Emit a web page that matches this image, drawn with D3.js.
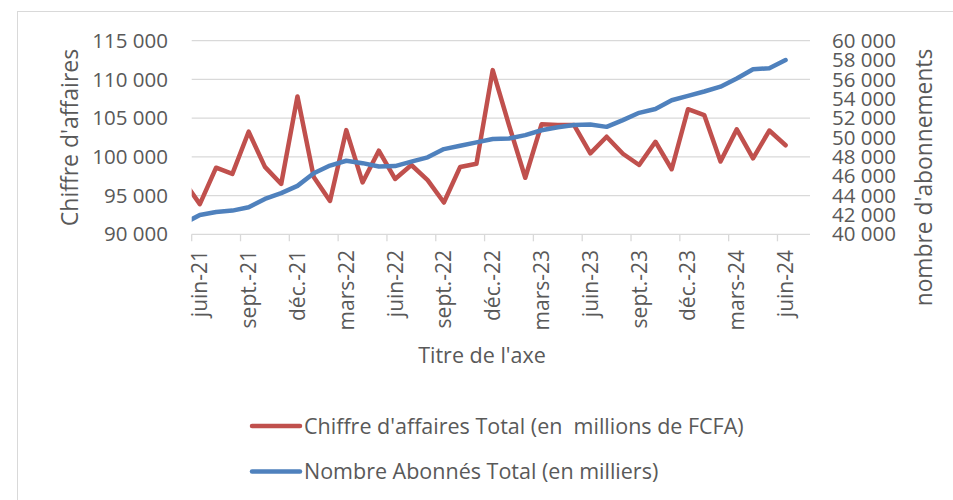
<!DOCTYPE html>
<html>
<head>
<meta charset="utf-8">
<script src="https://cdn.jsdelivr.net/npm/d3@7"></script>
<style>
  body { margin: 0; background: #fff; }
  svg { display: block; font-family: "Open Sans", sans-serif; }
</style>
</head>
<body>
<svg id="chart" width="953" height="500"></svg>
<script>
// --- data ---
const months = ["mai-21","juin-21","juil.-21","août-21","sept.-21","oct.-21","nov.-21","déc.-21",
  "janv.-22","févr.-22","mars-22","avr.-22","mai-22","juin-22","juil.-22","août-22","sept.-22","oct.-22","nov.-22","déc.-22",
  "janv.-23","févr.-23","mars-23","avr.-23","mai-23","juin-23","juil.-23","août-23","sept.-23","oct.-23","nov.-23","déc.-23",
  "janv.-24","févr.-24","mars-24","avr.-24","mai-24","juin-24"];
const chiffreAffaires = [96900, 93900, 98600, 97800, 103250, 98700, 96500, 107800,
  97400, 94300, 103450, 96700, 100800, 97150, 98950, 97000, 94100, 98700, 99100, 111200,
  104100, 97300, 104200, 104100, 104100, 100450, 102600, 100400, 98950, 101950, 98400, 106150,
  105400, 99400, 103550, 99800, 103400, 101500];
const abonnes = [41100, 42000, 42300, 42450, 42800, 43650, 44250, 45000,
  46300, 47100, 47600, 47350, 47000, 47050, 47500, 47950, 48800, 49150, 49500, 49850,
  49900, 50250, 50750, 51050, 51300, 51350, 51100, 51800, 52550, 52950, 53850, 54300,
  54750, 55250, 56100, 57050, 57150, 58000];
const tickMonths = ["juin-21","sept.-21","déc.-21","mars-22","juin-22","sept.-22","déc.-22",
  "mars-23","juin-23","sept.-23","déc.-23","mars-24","juin-24"];
const leftTicks = [90000, 95000, 100000, 105000, 110000, 115000];
const rightTicks = [40000, 42000, 44000, 46000, 48000, 50000, 52000, 54000, 56000, 58000, 60000];
const seriesNames = ["Chiffre d'affaires Total (en  millions de FCFA)", "Nombre Abonnés Total (en milliers)"];

const red = "#c0504d", blue = "#4f81bd", grid = "#d9d9d9", txt = "#595959";

const svg = d3.select("#chart");
const fr = d3.formatLocale({ decimal: ",", thousands: "\u00a0", grouping: [3], currency: ["", ""] });
const fmt = fr.format(",d");

// plot area
const plotLeft = 191.7, plotRight = 810, plotTop = 40.7, plotBottom = 234.3;
const firstSlot = months.indexOf("juin-21"); // axis starts at juin-21
const nSlots = 38;

const x = d3.scaleLinear().domain([0, nSlots]).range([plotLeft, plotRight]);
const xc = i => x(i - firstSlot + 0.5);
const yL = d3.scaleLinear().domain([90000, 115000]).range([plotBottom, plotTop]);
const yR = d3.scaleLinear().domain([40000, 60000]).range([plotBottom, plotTop]);

svg.append("rect").attr("width", 953).attr("height", 500).attr("fill", "#fff");
// chart border (only left/top visible in frame)
svg.append("rect").attr("x", 17.5).attr("y", 11.5).attr("width", 960).attr("height", 520)
  .attr("fill", "none").attr("stroke", grid).attr("stroke-width", 1);

// gridlines
svg.append("g").selectAll("line").data(leftTicks.slice(1)).join("line")
  .attr("x1", plotLeft).attr("x2", plotRight)
  .attr("y1", d => yL(d)).attr("y2", d => yL(d))
  .attr("stroke", grid).attr("stroke-width", 1.3);

// x axis line + ticks every 3 months
svg.append("line").attr("x1", plotLeft).attr("x2", plotRight).attr("y1", plotBottom).attr("y2", plotBottom)
  .attr("stroke", grid).attr("stroke-width", 1.3);
svg.append("g").selectAll("line").data(tickMonths).join("line")
  .attr("x1", d => x(months.indexOf(d) - firstSlot)).attr("x2", d => x(months.indexOf(d) - firstSlot))
  .attr("y1", plotBottom).attr("y2", plotBottom + 7)
  .attr("stroke", grid).attr("stroke-width", 1.3);

// x tick labels
svg.append("g").selectAll("text").data(tickMonths).join("text")
  .attr("transform", d => `translate(${xc(months.indexOf(d)) + 7.5},250) rotate(-90)`)
  .attr("text-anchor", "end")
  .attr("font-size", 21).attr("fill", txt)
  .text(d => d);

// left axis labels
svg.append("g").selectAll("text").data(leftTicks).join("text")
  .attr("x", 168).attr("y", d => yL(d)).attr("dy", "0.35em")
  .attr("text-anchor", "end").attr("font-size", 20.5).attr("fill", txt)
  .text(d => fmt(d));

// right axis labels (tightly packed, as in the original)
svg.append("g").selectAll("text").data(rightTicks).join("text")
  .attr("x", 832).attr("y", d => yR(d)).attr("dy", "0.35em")
  .attr("text-anchor", "start").attr("font-size", 20.5).attr("fill", txt)
  .text(d => fmt(d));

// axis titles
svg.append("text").attr("transform", `translate(78,${(plotTop + plotBottom) / 2}) rotate(-90)`)
  .attr("text-anchor", "middle").attr("font-size", 23).attr("fill", txt)
  .text("Chiffre d'affaires");
svg.append("text").attr("transform", `translate(932,177.5) rotate(-90)`)
  .attr("text-anchor", "middle").attr("font-size", 22.8).attr("fill", txt)
  .text("nombre d'abonnements");
svg.append("text").attr("x", 482).attr("y", 363)
  .attr("text-anchor", "middle").attr("font-size", 21.5).attr("fill", txt)
  .text("Titre de l'axe");

// lines, clipped to plot area
svg.append("clipPath").attr("id", "plotclip")
  .append("rect").attr("x", plotLeft).attr("y", 0).attr("width", plotRight - plotLeft).attr("height", 300);

const lineL = d3.line().x((d, i) => xc(i)).y(d => yL(d));
const lineR = d3.line().x((d, i) => xc(i)).y(d => yR(d));

const g = svg.append("g").attr("clip-path", "url(#plotclip)");
g.append("path").datum(chiffreAffaires).attr("d", lineL)
  .attr("fill", "none").attr("stroke", red).attr("stroke-width", 4.5)
  .attr("stroke-linejoin", "round").attr("stroke-linecap", "round");
g.append("path").datum(abonnes).attr("d", lineR)
  .attr("fill", "none").attr("stroke", blue).attr("stroke-width", 4.5)
  .attr("stroke-linejoin", "round").attr("stroke-linecap", "round");

// legend
const legend = svg.append("g").selectAll("g").data(seriesNames).join("g")
  .attr("transform", (d, i) => `translate(252,${426 + i * 45.5})`);
legend.append("line").attr("x1", 0).attr("x2", 48)
  .attr("stroke", (d, i) => i ? blue : red).attr("stroke-width", 4.5).attr("stroke-linecap", "round");
legend.append("text").attr("x", 52).attr("dy", "0.35em")
  .attr("font-size", 21.5).attr("fill", txt)
  .style("white-space", "pre")
  .text(d => d);
</script>
</body>
</html>
